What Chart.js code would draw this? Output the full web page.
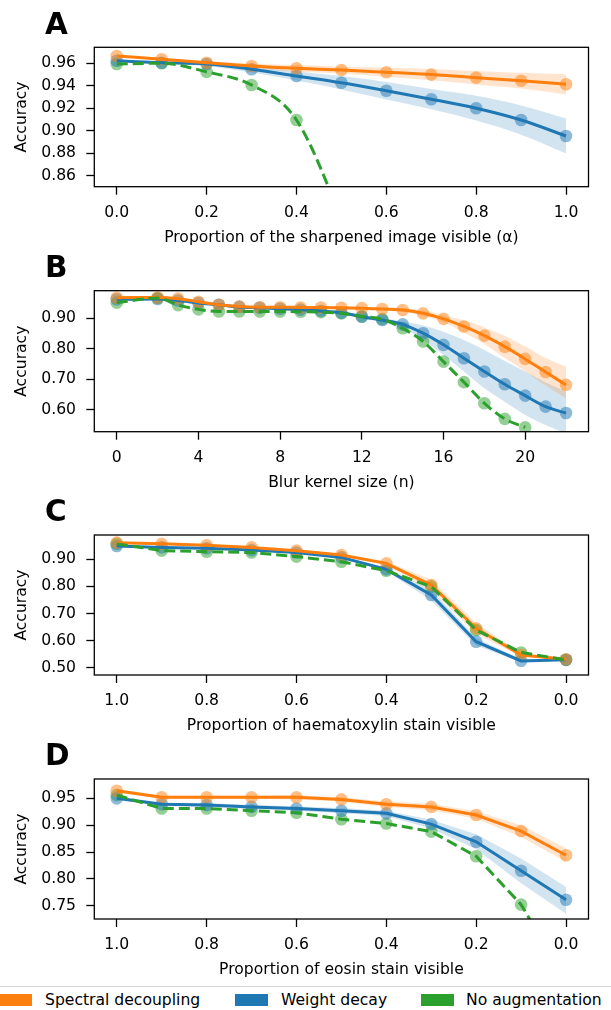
<!DOCTYPE html>
<html>
<head>
<meta charset="utf-8">
<script src="https://cdn.jsdelivr.net/npm/chart.js@4.4.1/dist/chart.umd.min.js"></script>
<style>
body { margin: 0; width: 611px; height: 1010px; position: relative; overflow: hidden; background: #fff; font-family: "DejaVu Sans"; }
canvas { position: absolute; left: 0; }
.letter { position: absolute; left: 45px; font-weight: bold; font-size: 29.5px; line-height: 29px; z-index: 2; }
#legend { position: absolute; left: -12px; top: 986px; width: 632px; height: 40px; border: 1px solid #d6d6d6; border-radius: 4px; }
.patch { position: absolute; top: 994px; height: 12px; }
.lab { position: absolute; top: 991px; font-size: 15.6px; line-height: 18px; white-space: nowrap; }
</style>
</head>
<body>
<canvas id="chartA" width="611" height="227"></canvas>
<canvas id="chartB" width="611" height="227"></canvas>
<canvas id="chartC" width="611" height="227"></canvas>
<canvas id="chartD" width="611" height="227"></canvas>
<div class="letter" id="letA">A</div>
<div class="letter" id="letB">B</div>
<div class="letter" id="letC">C</div>
<div class="letter" id="letD">D</div>
<div id="legend"></div>
<div class="patch" style="left:0px;width:32px;background:#ff7f0e"></div>
<div class="lab" style="left:45px">Spectral decoupling</div>
<div class="patch" style="left:235px;width:33px;background:#1f77b4"></div>
<div class="lab" style="left:281px">Weight decay</div>
<div class="patch" style="left:421px;width:33px;background:#2ca02c"></div>
<div class="lab" style="left:466px">No augmentation</div>
<script>
// panel A: sharpening
const alphaX = [0.0, 0.1, 0.2, 0.3, 0.4, 0.5, 0.6, 0.7, 0.8, 0.9, 1.0];
const sdA = [0.9665, 0.9636, 0.9605, 0.9576, 0.9555, 0.954, 0.952, 0.9499, 0.9472, 0.9445, 0.9413];
const sdA_hi = [0.9675, 0.9646, 0.962, 0.9596, 0.9585, 0.957, 0.956, 0.9549, 0.9532, 0.9515, 0.9503];
const sdA_lo = [0.9655, 0.9626, 0.959, 0.9556, 0.9525, 0.951, 0.948, 0.9449, 0.9412, 0.9375, 0.9323];
const wdA = [0.9623, 0.9605, 0.9594, 0.9547, 0.9487, 0.9427, 0.9356, 0.928, 0.920, 0.9095, 0.8953];
const wdA_hi = [0.9633, 0.9615, 0.9614, 0.9577, 0.9527, 0.9487, 0.9434, 0.937, 0.931, 0.9225, 0.9108];
const wdA_lo = [0.9613, 0.9595, 0.9574, 0.9517, 0.9447, 0.9367, 0.9278, 0.919, 0.909, 0.8965, 0.8798];
const naA = [0.9594, 0.960, 0.9523, 0.9407, 0.9095, 0.82, 0.70];
const xTicksA = [0.0, 0.2, 0.4, 0.6, 0.8, 1.0];
const yTicksA = [0.86, 0.88, 0.90, 0.92, 0.94, 0.96];

// panel B: blur
const blurX = [0, 2, 3, 4, 5, 6, 7, 8, 9, 10, 11, 12, 13, 14, 15, 16, 17, 18, 19, 20, 21, 22];
const sdB = [0.967, 0.968, 0.964, 0.954, 0.944, 0.938, 0.936, 0.936, 0.935, 0.935, 0.934, 0.933, 0.930, 0.927, 0.916, 0.898, 0.873, 0.843, 0.807, 0.767, 0.724, 0.682];
const sdB_hi = [0.971, 0.972, 0.968, 0.958, 0.948, 0.942, 0.940, 0.940, 0.939, 0.939, 0.938, 0.937, 0.934, 0.933, 0.925, 0.910, 0.893, 0.870, 0.843, 0.808, 0.770, 0.742];
const sdB_lo = [0.963, 0.964, 0.960, 0.950, 0.940, 0.934, 0.932, 0.932, 0.931, 0.931, 0.930, 0.929, 0.926, 0.921, 0.907, 0.886, 0.853, 0.816, 0.770, 0.727, 0.680, 0.639];
const wdB = [0.962, 0.963, 0.958, 0.950, 0.944, 0.937, 0.934, 0.931, 0.928, 0.924, 0.918, 0.905, 0.894, 0.880, 0.851, 0.813, 0.769, 0.726, 0.684, 0.647, 0.611, 0.590];
const wdB_hi = [0.966, 0.967, 0.962, 0.954, 0.948, 0.941, 0.938, 0.935, 0.932, 0.928, 0.923, 0.911, 0.901, 0.889, 0.876, 0.856, 0.829, 0.796, 0.760, 0.726, 0.691, 0.660];
const wdB_lo = [0.958, 0.959, 0.954, 0.946, 0.940, 0.933, 0.930, 0.927, 0.924, 0.920, 0.913, 0.899, 0.887, 0.867, 0.829, 0.780, 0.726, 0.671, 0.627, 0.584, 0.551, 0.524];
const naB = [0.951, 0.966, 0.943, 0.929, 0.922, 0.922, 0.922, 0.922, 0.921, 0.920, 0.916, 0.906, 0.897, 0.867, 0.824, 0.758, 0.691, 0.622, 0.571, 0.543];
const xTicksB = [0, 4, 8, 12, 16, 20];
const yTicksB = [0.60, 0.70, 0.80, 0.90];

// panels C and D: stain proportion, read left to right
const stainX = [1.0, 0.9, 0.8, 0.7, 0.6, 0.5, 0.4, 0.3, 0.2, 0.1, 0.0];
const sdC = [0.9615, 0.957, 0.952, 0.944, 0.932, 0.916, 0.885, 0.805, 0.645, 0.547, 0.531];
const sdC_hi = [0.964, 0.960, 0.955, 0.947, 0.935, 0.920, 0.892, 0.825, 0.665, 0.553, 0.534];
const sdC_lo = [0.959, 0.954, 0.949, 0.941, 0.929, 0.912, 0.878, 0.785, 0.625, 0.541, 0.528];
const wdC = [0.949, 0.944, 0.941, 0.934, 0.925, 0.907, 0.863, 0.768, 0.596, 0.525, 0.529];
const wdC_hi = [0.952, 0.947, 0.944, 0.937, 0.928, 0.911, 0.870, 0.788, 0.610, 0.530, 0.532];
const wdC_lo = [0.946, 0.941, 0.938, 0.931, 0.922, 0.903, 0.856, 0.748, 0.582, 0.520, 0.526];
const naC = [0.957, 0.932, 0.928, 0.925, 0.910, 0.891, 0.858, 0.799, 0.639, 0.556, 0.529];
const yTicksC = [0.50, 0.60, 0.70, 0.80, 0.90];

const sdD = [0.964, 0.952, 0.952, 0.952, 0.952, 0.948, 0.939, 0.934, 0.919, 0.889, 0.844];
const sdD_hi = [0.967, 0.955, 0.955, 0.955, 0.956, 0.952, 0.944, 0.940, 0.926, 0.900, 0.857];
const sdD_lo = [0.961, 0.949, 0.949, 0.949, 0.948, 0.944, 0.934, 0.928, 0.912, 0.878, 0.832];
const wdD = [0.950, 0.939, 0.9375, 0.934, 0.931, 0.927, 0.922, 0.902, 0.869, 0.815, 0.761];
const wdD_hi = [0.953, 0.942, 0.941, 0.938, 0.935, 0.932, 0.927, 0.910, 0.883, 0.838, 0.785];
const wdD_lo = [0.947, 0.936, 0.934, 0.930, 0.927, 0.922, 0.917, 0.894, 0.855, 0.792, 0.735];
const naD = [0.956, 0.931, 0.931, 0.927, 0.923, 0.911, 0.903, 0.888, 0.842, 0.752, 0.61];
const xTicksStain = [1.0, 0.8, 0.6, 0.4, 0.2, 0.0];
const yTicksD = [0.75, 0.80, 0.85, 0.90, 0.95];

const ORANGE = [255, 127, 14], BLUE = [31, 119, 180], GREEN = [44, 160, 44];
const FONT = 15.6;
const H = 227, LEFT = 94.3, RIGHT = 588.5;

Chart.defaults.font.family = 'DejaVu Sans';
Chart.defaults.font.size = FONT;
Chart.defaults.color = '#000';

const col = function(c, a) { return 'rgba(' + c.join(',') + ',' + a + ')'; };
const series = function(xs, ys) { return ys.map((v, i) => ({x: xs[i], y: v})); };

const framePlugin = {
    id: 'frame',
    afterDatasetsDraw(chart) {
        const a = chart.chartArea, ctx = chart.ctx;
        ctx.save();
        ctx.strokeStyle = '#000';
        ctx.lineWidth = 1.3;
        ctx.strokeRect(a.left, a.top, a.right - a.left, a.bottom - a.top);
        ctx.restore();
    }
};

function makePanel(id, letterId, frameTop, frameBottom, p) {
    const canvas = document.getElementById(id);
    // leave more room above than the y tick labels ask for, so the frame lands where we want
    const top = Math.floor(frameTop) - 24;
    canvas.style.top = top + 'px';
    const xHeight = top + H - frameBottom;
    document.getElementById(letterId).style.top = (frameTop - 37.8) + 'px';

    const smooth = p.smooth ? 'monotone' : 'default';
    const ds = [];
    p.bands.forEach(b => {
        ds.push({data: series(p.x, b.lo), borderWidth: 0, borderColor: 'rgba(0,0,0,0)', pointRadius: 0,
            fill: false, order: 10, cubicInterpolationMode: smooth, clip: 0});
        ds.push({data: series(p.x, b.hi), borderWidth: 0, borderColor: 'rgba(0,0,0,0)', pointRadius: 0,
            fill: '-1', backgroundColor: col(b.color, 0.2), order: 10, cubicInterpolationMode: smooth, clip: 0});
    });
    p.lines.forEach(l => {
        ds.push({data: series(p.x, l.y), showLine: false, pointRadius: 6.3, pointBorderWidth: 0,
            pointBackgroundColor: col(l.color, 0.5), order: 5, clip: 0});
    });
    p.lines.forEach(l => {
        ds.push({data: series(p.x, l.y), borderColor: col(l.color, 1), borderWidth: 3, pointRadius: 0,
            borderDash: l.dash || [], fill: false, order: l.order, cubicInterpolationMode: smooth, clip: 0});
    });

    new Chart(canvas, {
        type: 'line',
        data: {datasets: ds},
        plugins: [framePlugin],
        options: {
            responsive: false,
            animation: false,
            events: [],
            layout: {padding: {top: frameTop - top, right: 611 - RIGHT, left: 0, bottom: 0}},
            plugins: {legend: {display: false}, tooltip: {enabled: false}},
            scales: {
                x: {
                    type: 'linear', min: p.xMin, max: p.xMax, reverse: !!p.reverse,
                    afterBuildTicks: s => { s.ticks = p.xTicks.map(v => ({value: v})); },
                    afterFit: s => { s.height = xHeight; },
                    grid: {drawOnChartArea: false, drawTicks: true, tickLength: 8, tickWidth: 1.3, tickColor: '#000'},
                    border: {display: false},
                    ticks: {padding: 8.6, autoSkip: false, maxRotation: 0, color: '#000',
                        callback: v => p.xFmt(v)},
                    title: {display: true, text: p.xTitle, color: '#000', font: {size: FONT},
                        padding: {top: 0, bottom: xHeight - 51.1 - FONT * 0.6}}
                },
                y: {
                    type: 'linear', min: p.yMin, max: p.yMax,
                    afterBuildTicks: s => { s.ticks = p.yTicks.map(v => ({value: v})); },
                    afterFit: s => { s.width = LEFT; },
                    grid: {drawOnChartArea: false, drawTicks: true, tickLength: 8, tickWidth: 1.3, tickColor: '#000'},
                    border: {display: false},
                    ticks: {padding: 10.3, autoSkip: false, color: '#000', callback: v => v.toFixed(2)},
                    title: {display: true, text: 'Accuracy', color: '#000', font: {size: FONT},
                        padding: {top: 22 - FONT * 0.6, bottom: 0}}
                }
            }
        }
    });
}

makePanel('chartA', 'letA', 47.3, 186.7, {
    x: alphaX, xMin: -0.05, xMax: 1.05, yMin: 0.8502, yMax: 0.9742,
    xTicks: xTicksA, yTicks: yTicksA, smooth: true, xFmt: v => v.toFixed(1),
    xTitle: 'Proportion of the sharpened image visible (\u03b1)',
    bands: [{lo: sdA_lo, hi: sdA_hi, color: ORANGE}, {lo: wdA_lo, hi: wdA_hi, color: BLUE}],
    lines: [{y: sdA, color: ORANGE, order: 2}, {y: wdA, color: BLUE, order: 3}, {y: naA, color: GREEN, order: 1, dash: [11, 5]}]
});

makePanel('chartB', 'letB', 290.7, 431.7, {
    x: blurX, xMin: -1.1, xMax: 23.1, yMin: 0.529, yMax: 0.990,
    xTicks: xTicksB, yTicks: yTicksB, smooth: true, xFmt: v => String(v),
    xTitle: 'Blur kernel size (n)',
    bands: [{lo: sdB_lo, hi: sdB_hi, color: ORANGE}, {lo: wdB_lo, hi: wdB_hi, color: BLUE}],
    lines: [{y: sdB, color: ORANGE, order: 2}, {y: wdB, color: BLUE, order: 3}, {y: naB, color: GREEN, order: 1, dash: [11, 5]}]
});

makePanel('chartC', 'letC', 535, 675, {
    x: stainX, xMin: -0.05, xMax: 1.05, reverse: true, yMin: 0.473, yMax: 0.9897,
    xTicks: xTicksStain, yTicks: yTicksC, smooth: false, xFmt: v => v.toFixed(1),
    xTitle: 'Proportion of haematoxylin stain visible',
    bands: [{lo: sdC_lo, hi: sdC_hi, color: ORANGE}, {lo: wdC_lo, hi: wdC_hi, color: BLUE}],
    lines: [{y: sdC, color: ORANGE, order: 2}, {y: wdC, color: BLUE, order: 3}, {y: naC, color: GREEN, order: 1, dash: [11, 5]}]
});

makePanel('chartD', 'letD', 779, 919, {
    x: stainX, xMin: -0.05, xMax: 1.05, reverse: true, yMin: 0.7252, yMax: 0.986,
    xTicks: xTicksStain, yTicks: yTicksD, smooth: false, xFmt: v => v.toFixed(1),
    xTitle: 'Proportion of eosin stain visible',
    bands: [{lo: sdD_lo, hi: sdD_hi, color: ORANGE}, {lo: wdD_lo, hi: wdD_hi, color: BLUE}],
    lines: [{y: sdD, color: ORANGE, order: 2}, {y: wdD, color: BLUE, order: 3}, {y: naD, color: GREEN, order: 1, dash: [11, 5]}]
});
</script>
</body>
</html>
